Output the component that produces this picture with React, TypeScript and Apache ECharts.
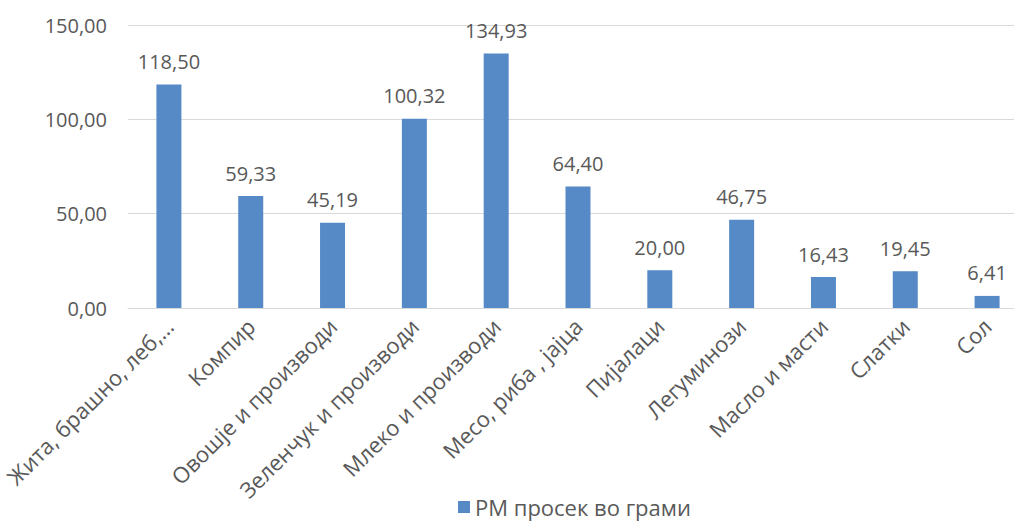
import React, { useEffect, useRef } from "react";
import * as echarts from "echarts";

const categories = [
  "Жита, брашно, леб,…",
  "Компир",
  "Овошје и производи",
  "Зеленчук и производи",
  "Млеко и производи",
  "Месо, риба , јајца",
  "Пијалаци",
  "Легуминози",
  "Масло и масти",
  "Слатки",
  "Сол",
];
const values = [118.5, 59.33, 45.19, 100.32, 134.93, 64.4, 20.0, 46.75, 16.43, 19.45, 6.41];
const seriesName = "РМ просек во грами";
const yTicks = { min: 0, max: 150, interval: 50 };

const fmt = (v: number) => v.toFixed(2).replace(".", ",");
const FONT = "'Open Sans', 'Noto Sans', sans-serif";
const TXT = "#595959";
const FS = 20;

export default function App() {
  const ref = useRef<HTMLDivElement>(null);
  useEffect(() => {
    if (!ref.current) return;
    const chart = echarts.init(ref.current, undefined, { renderer: "svg" });
    chart.setOption({
      animation: false,
      textStyle: { fontFamily: FONT },
      grid: { left: 128, top: 25, width: 900, height: 283, containLabel: false },
      legend: {
        data: [seriesName],
        left: 458,
        top: 496,
        padding: 0,
        itemWidth: 12,
        itemHeight: 12,
        itemGap: 8,
        icon: "rect",
        textStyle: { fontFamily: FONT, fontSize: 22, color: TXT, lineHeight: 22 },
      },
      xAxis: {
        type: "category",
        data: categories,
        axisLine: { show: true, lineStyle: { color: "#d9d9d9", width: 1 } },
        axisTick: { show: false },
        axisLabel: {
          rotate: 45,
          interval: 0,
          margin: 14,
          fontFamily: FONT,
          fontSize: 22,
          color: TXT,
        },
      },
      yAxis: {
        type: "value",
        min: yTicks.min,
        max: yTicks.max,
        interval: yTicks.interval,
        axisLine: { show: false },
        axisTick: { show: false },
        splitLine: { lineStyle: { color: "#d9d9d9", width: 1 } },
        axisLabel: {
          formatter: (v: number) => fmt(v),
          margin: 21,
          fontFamily: FONT,
          fontSize: FS,
          color: TXT,
        },
      },
      series: [
        {
          name: seriesName,
          type: "bar",
          data: values,
          barWidth: 25,
          itemStyle: { color: "#558ac6" },
          label: {
            show: true,
            position: "top",
            distance: 13,
            formatter: (p: any) => fmt(p.value),
            fontFamily: FONT,
            fontSize: FS,
            color: TXT,
          },
        },
      ],
    });
    return () => chart.dispose();
  }, []);
  return (
    <div
      ref={ref}
      style={{ position: "fixed", left: 0, top: 0, width: 1050, height: 521, background: "#fff" }}
    />
  );
}
